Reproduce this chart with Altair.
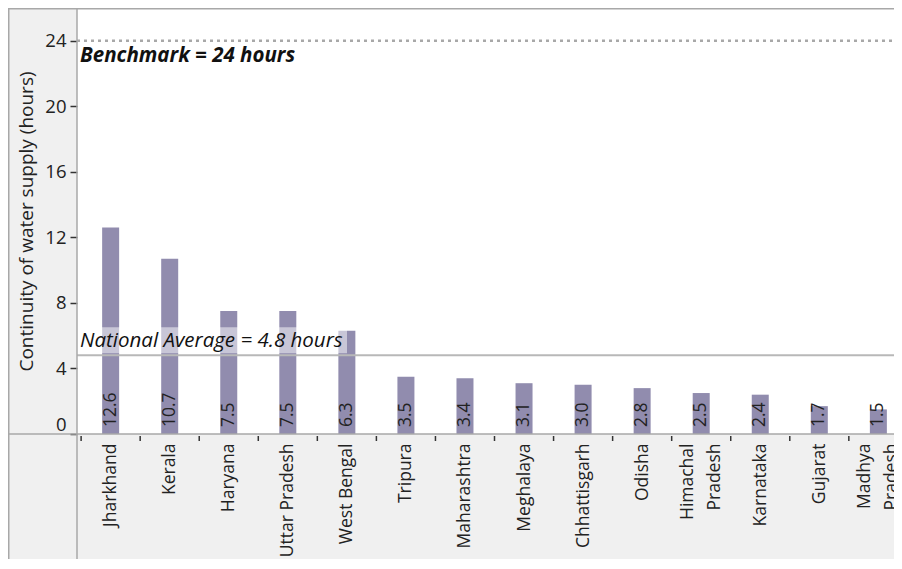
import altair as alt
import pandas as pd

states = ["Jharkhand", "Kerala", "Haryana", "Uttar Pradesh", "West Bengal", "Tripura",
          "Maharashtra", "Meghalaya", "Chhattisgarh", "Odisha", "Himachal Pradesh",
          "Karnataka", "Gujarat", "Madhya Pradesh"]
hours = [12.6, 10.7, 7.5, 7.5, 6.3, 3.5, 3.4, 3.1, 3.0, 2.8, 2.5, 2.4, 1.7, 1.5]
wrapped = ["Himachal Pradesh", "Madhya Pradesh"]
y_ticks = [0, 4, 8, 12, 16, 20, 24]
benchmark = 24
national_avg = 4.8
box_bottom = 4.93
box_top = 6.52
# visible category window (the chart is cut at its right edge)
x_window = [-0.485, 13.18]

FONT = "Open Sans"
W, H = 817, 426
PAD_L, PAD_B = 69, 125
FRAME = "#a8a8a8"

idx = list(range(len(states)))
df = pd.DataFrame({"idx": idx, "state": states, "hours": hours})
bounds = pd.DataFrame({"b": [i - 0.5 for i in range(len(states) + 1)]})
one = pd.DataFrame({"k": [0]})

xscale = alt.Scale(domain=x_window, nice=False, zero=False)
yscale = alt.Scale(domain=[0, 26], nice=False)

names = [s.replace(" ", "|") if s in wrapped else s for s in states]
names_arr = "[" + ",".join("'%s'" % s for s in names) + "]"
label_expr = "split(" + names_arr + "[datum.value], '|')"
wrapped_idx = "[" + ",".join(str(states.index(s)) for s in wrapped) + "]"
wrap_test = "indexof(" + wrapped_idx + ", datum.value) >= 0"

base = alt.Chart(df)

bars = base.mark_bar(size=17, color="#918cae").encode(
    x=alt.X("idx:Q", scale=xscale,
            axis=alt.Axis(title=None, values=idx, labelAngle=270, labelAlign="right",
                          labelBaseline="middle", labelFont=FONT, labelFontSize=17.5,
                          labelColor="#222", labelPadding=9, labelLineHeight=27,
                          labelExpr=label_expr,
                          labelOffset={"condition": {"test": wrap_test, "value": -13.5},
                                       "value": 0},
                          ticks=False, tickSize=0, domain=False, grid=False,
                          labelOverlap=False, labelFlush=False)),
    y=alt.Y("hours:Q", scale=yscale,
            axis=alt.Axis(values=y_ticks, title="Continuity of water supply (hours)",
                          titleFont=FONT, titleFontSize=19, titleFontWeight="normal",
                          titleColor="#222", titlePadding=8,
                          labelFont=FONT, labelFontSize=18.5, labelColor="#222",
                          labelPadding=4, tickSize=7, tickColor="#333", tickWidth=1.5,
                          domain=False, grid=False, labelFlush=True)),
)

xticks = alt.Chart(bounds).mark_rule(color="#333", strokeWidth=1.5).encode(
    x=alt.X("b:Q", scale=xscale), y=alt.value(H + 2), y2=alt.value(H + 7))

box = alt.Chart(one).mark_rect(color="white", opacity=0.5).encode(
    x=alt.value(0), x2=alt.value(270),
    y=alt.datum(box_bottom, scale=yscale), y2=alt.datum(box_top),
)

bench_rule = alt.Chart(one).mark_rule(color="#a8a8a8", strokeWidth=2.5, strokeDash=[3, 4]).encode(
    x=alt.value(0), x2=alt.value(W), y=alt.datum(benchmark, scale=yscale))
avg_rule = alt.Chart(one).mark_rule(color="#b8b8b8", strokeWidth=2).encode(
    x=alt.value(0), x2=alt.value(W), y=alt.datum(national_avg, scale=yscale))

bench_text = alt.Chart(one).mark_text(
    text="Benchmark = 24 hours", font=FONT, fontSize=20.5, fontWeight="bold",
    fontStyle="italic", align="left", baseline="alphabetic", dx=3, dy=21, color="#111"
).encode(x=alt.value(0), y=alt.datum(benchmark, scale=yscale))

avg_text = alt.Chart(one).mark_text(
    text="National Average = 4.8 hours", font=FONT, fontSize=20.5, fontStyle="italic",
    align="left", baseline="alphabetic", dx=3, dy=-8, color="#111"
).encode(x=alt.value(0), y=alt.datum(national_avg, scale=yscale))

values = base.mark_text(angle=270, align="left", baseline="middle", dx=7,
                        font=FONT, fontSize=17.5, color="#222").encode(
    x=alt.X("idx:Q", scale=xscale),
    y=alt.datum(0, scale=yscale),
    text=alt.Text("hours:Q", format=".1f"),
)

def hline(yv, x1, x2):
    return alt.Chart(one).mark_rule(color=FRAME, strokeWidth=1.5).encode(
        x=alt.value(x1), x2=alt.value(x2), y=alt.value(yv))

def vline(xv, y1, y2):
    return alt.Chart(one).mark_rule(color=FRAME, strokeWidth=1.5).encode(
        x=alt.value(xv), y=alt.value(y1), y2=alt.value(y2))

frames = [
    hline(0.75, -PAD_L, W),
    hline(H, -PAD_L, W),
    vline(0, 0, H + PAD_B),
    vline(-PAD_L + 0.75, 0, H + PAD_B),
]

chart = alt.layer(bars, box, avg_rule, bench_rule, values, bench_text, avg_text,
                  xticks, *frames).properties(
    width=W, height=H,
    autosize=alt.AutoSizeParams(type="none"),
    padding={"left": PAD_L, "top": 0, "right": 0, "bottom": PAD_B},
    background="#f0f0f0",
).configure_view(fill="white", stroke=None)

chart.save("out.html", embed_options={"renderer": "svg", "actions": False})
